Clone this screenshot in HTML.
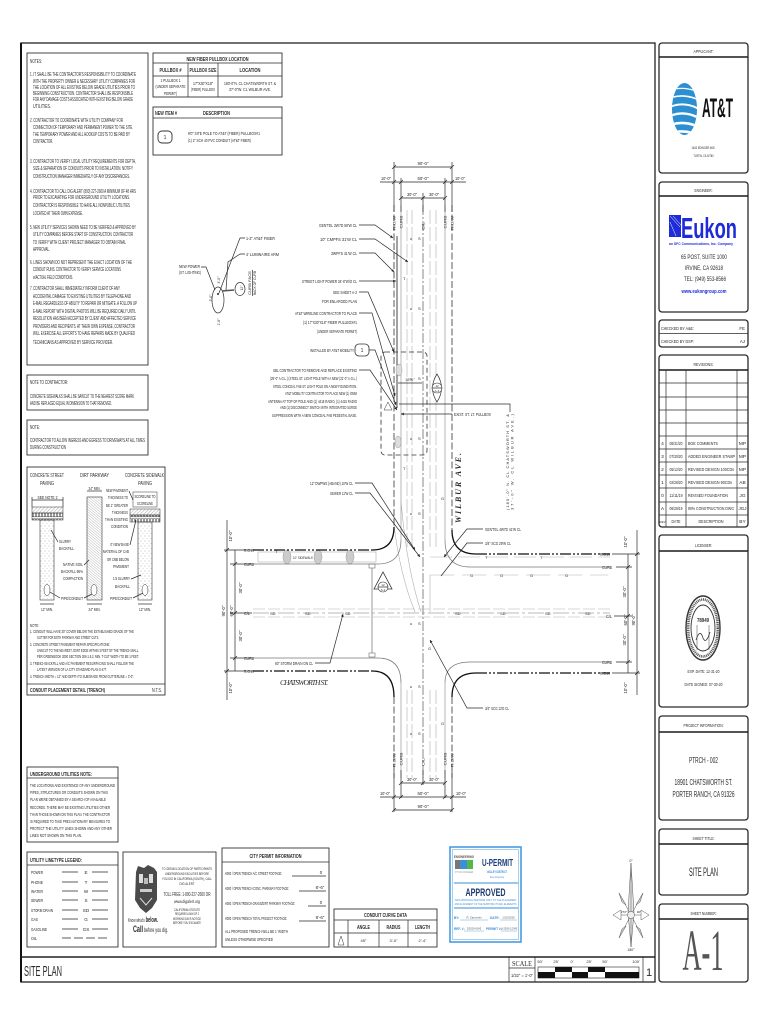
<!DOCTYPE html>
<html><head><meta charset="utf-8">
<style>
html,body{margin:0;padding:0;background:#fff;}
svg{display:block;}
text{font-family:"Liberation Sans",sans-serif;fill:#2a2a2a;}
.b{font-weight:bold;}
.c{text-anchor:middle;}
.r{text-anchor:end;}
.ln{stroke:#2a2a2a;fill:none;stroke-width:0.7;}
.lt{stroke:#b0b0b0;fill:none;stroke-width:0.6;}
.bx{fill:none;stroke:#333;stroke-width:0.9;}
.tb{fill:#fff;stroke:#2a2a2a;stroke-width:1.3;}
.hd{stroke:#1a1a1a;stroke-width:1.6;}
.g{fill:#999;font-size:4px;}
.sm{font-size:4.4px;}
</style></head><body>
<svg width="770" height="1024" viewBox="0 0 770 1024" xmlns="http://www.w3.org/2000/svg" font-size="5.2">
<defs>
<pattern id="hatch" width="2.5" height="2.5" patternUnits="userSpaceOnUse" patternTransform="rotate(45)"><line x1="0" y1="0" x2="0" y2="2.5" stroke="#555" stroke-width="0.5"/></pattern>
<pattern id="hatch2" width="2" height="2" patternUnits="userSpaceOnUse" patternTransform="rotate(-50)"><line x1="0" y1="0" x2="0" y2="2" stroke="#777" stroke-width="0.5"/></pattern>
<pattern id="dots" width="4" height="5" patternUnits="userSpaceOnUse"><circle cx="1" cy="1" r="0.4" fill="#666"/><circle cx="3" cy="3.5" r="0.35" fill="#888"/></pattern>
<pattern id="xh" width="3" height="7" patternUnits="userSpaceOnUse"><rect x="0.3" y="0.8" width="2.3" height="5" fill="none" stroke="#333" stroke-width="0.5"/></pattern>
<marker id="ah" viewBox="0 0 6 6" refX="6" refY="3" markerWidth="4" markerHeight="4" orient="auto"><path d="M0,0 L6,3 L0,6 z" fill="#222"/></marker>
<clipPath id="glb"><ellipse cx="684.5" cy="109" rx="12.5" ry="26"/></clipPath>
</defs>

<!-- MAIN FRAME -->
<rect x="21" y="43" width="634" height="939" fill="none" stroke="#222" stroke-width="1.3"/>
<line x1="21" y1="43" x2="21" y2="982" stroke="#111" stroke-width="2"/>
<line x1="21" y1="957" x2="655" y2="957" stroke="#222" stroke-width="1.4"/>
<text x="24" y="976" font-size="15" textLength="38" lengthAdjust="spacingAndGlyphs">SITE PLAN</text>

<!-- scale -->
<line x1="509" y1="957" x2="509" y2="982" class="ln"/>
<line x1="535" y1="957" x2="535" y2="982" class="ln"/>
<line x1="643" y1="957" x2="643" y2="982" class="ln"/>
<line x1="509" y1="968" x2="535" y2="968" class="ln" stroke-width="0.4"/>
<text x="522" y="966" class="c" font-size="7" textLength="20" lengthAdjust="spacingAndGlyphs" style="font-family:'Liberation Serif',serif">SCALE</text>
<text x="522" y="977" class="c sm" textLength="22" lengthAdjust="spacingAndGlyphs">1/32" = 1'-0"</text>
<text x="540" y="963" class="c" font-size="4">50'</text><text x="556" y="963" class="c" font-size="4">25'</text><text x="572" y="963" class="c" font-size="4">0'</text><text x="589" y="963" class="c" font-size="4">25'</text><text x="605" y="963" class="c" font-size="4">50'</text><text x="636" y="963" class="c" font-size="4">100'</text>
<rect x="538" y="967" width="101" height="11" fill="#fff" stroke="#222" stroke-width="0.6"/>
<rect x="555" y="967" width="17" height="5" fill="#111"/><rect x="588" y="967" width="17" height="5" fill="#111"/>
<rect x="538" y="972" width="17" height="6" fill="#111"/><rect x="572" y="972" width="16" height="6" fill="#111"/><rect x="605" y="972" width="34" height="6" fill="#111"/>
<text x="649" y="976" class="c" font-size="11">1</text>

<!-- RIGHT TITLE COLUMN -->
<rect x="659" y="43" width="89" height="130" rx="3" class="tb"/>
<line x1="659" y1="57" x2="748" y2="57" class="hd"/>
<text x="703.5" y="53" class="c sm" textLength="20" lengthAdjust="spacingAndGlyphs">APPLICANT:</text>
<ellipse cx="684.5" cy="109" rx="12.5" ry="26" fill="#2b8fd1"/>
<g clip-path="url(#glb)" stroke="#fff" fill="none">
<path d="M670 90 Q684 86 699 92" stroke-width="1.2"/>
<path d="M670 98 Q684 93 699 100" stroke-width="1.6"/>
<path d="M670 107 Q684 101 699 109" stroke-width="2"/>
<path d="M670 116 Q684 110 699 118" stroke-width="2.4"/>
<path d="M670 125 Q684 120 699 127" stroke-width="2.6"/>
<path d="M670 133 Q684 129 699 135" stroke-width="2.6"/>
</g>
<text x="702" y="117" class="b" font-size="27" textLength="31" lengthAdjust="spacingAndGlyphs" style="fill:#111">AT&amp;T</text>
<text x="703.5" y="149" class="c" font-size="4" textLength="24" lengthAdjust="spacingAndGlyphs">1452 EDINGER AVE.</text>
<text x="703.5" y="157" class="c" font-size="4" textLength="20" lengthAdjust="spacingAndGlyphs">TUSTIN, CA 92780</text>

<rect x="659" y="182" width="89" height="130" rx="3" class="tb"/>
<line x1="659" y1="196" x2="748" y2="196" class="hd"/>
<text x="703.5" y="192" class="c sm" textLength="18" lengthAdjust="spacingAndGlyphs">ENGINEER:</text>
<rect x="669" y="215" width="12" height="22" fill="#1e2bd8"/>
<path d="M670 216 L680 227 M670 222 L676 236 M673 216 L681 225" stroke="#fff" stroke-width="0.5"/>
<text x="681" y="238" class="b" font-size="29" textLength="56" lengthAdjust="spacingAndGlyphs" style="fill:#1e2bd8">Eukon</text>
<text x="669" y="245" class="b" font-size="4" textLength="64" lengthAdjust="spacingAndGlyphs" style="fill:#1e2bd8">an SFC Communications, Inc. Company</text>
<text x="704" y="259" class="c" font-size="6.5" textLength="46" lengthAdjust="spacingAndGlyphs">65 POST, SUITE 1000</text>
<text x="704" y="270" class="c" font-size="6.5" textLength="38" lengthAdjust="spacingAndGlyphs">IRVINE, CA 92618</text>
<text x="705" y="281" class="c" font-size="6.5" textLength="42" lengthAdjust="spacingAndGlyphs">TEL:  (949) 553-8566</text>
<text x="704" y="293" class="c b" font-size="5" textLength="45" lengthAdjust="spacingAndGlyphs" style="fill:#1e2bd8">www.eukongroup.com</text>

<rect x="659" y="320" width="89" height="27" rx="3" class="tb"/>
<line x1="659" y1="333.5" x2="748" y2="333.5" class="ln"/>
<text x="661" y="330" class="sm" textLength="33" lengthAdjust="spacingAndGlyphs">CHECKED BY A&amp;E:</text>
<text x="745" y="330" class="r sm">FE</text>
<text x="661" y="343" class="sm" textLength="33" lengthAdjust="spacingAndGlyphs">CHECKED BY DSP:</text>
<text x="745" y="343" class="r sm">AJ</text>

<rect x="659" y="355" width="89" height="172" rx="3" class="tb"/>
<line x1="659" y1="370" x2="748" y2="370" class="hd"/>
<text x="703.5" y="366" class="c sm" textLength="20" lengthAdjust="spacingAndGlyphs">REVISIONS:</text>
<g class="ln" stroke-width="0.6">
<line x1="659" y1="383" x2="748" y2="383"/><line x1="659" y1="397" x2="748" y2="397"/><line x1="659" y1="410" x2="748" y2="410"/><line x1="659" y1="423" x2="748" y2="423"/><line x1="659" y1="436" x2="748" y2="436"/><line x1="659" y1="449" x2="748" y2="449"/><line x1="659" y1="462" x2="748" y2="462"/><line x1="659" y1="475" x2="748" y2="475"/><line x1="659" y1="488" x2="748" y2="488"/><line x1="659" y1="502" x2="748" y2="502"/><line x1="659" y1="515" x2="748" y2="515"/>
<line x1="666" y1="370" x2="666" y2="527"/><line x1="686" y1="370" x2="686" y2="527"/><line x1="737" y1="370" x2="737" y2="527"/>
</g>
<g font-size="4.8">
<text x="662.5" y="445" class="c">4</text><text x="676" y="445" class="c" textLength="13" lengthAdjust="spacingAndGlyphs">08/31/20</text><text x="688" y="445" textLength="30" lengthAdjust="spacingAndGlyphs">BOE COMMENTS</text><text x="742.5" y="445" class="c">MP</text>
<text x="662.5" y="458" class="c">3</text><text x="676" y="458" class="c" textLength="13" lengthAdjust="spacingAndGlyphs">07/30/20</text><text x="688" y="458" textLength="47" lengthAdjust="spacingAndGlyphs">ADDED ENGINEER STAMP</text><text x="742.5" y="458" class="c">MP</text>
<text x="662.5" y="471" class="c">2</text><text x="676" y="471" class="c" textLength="13" lengthAdjust="spacingAndGlyphs">05/12/20</text><text x="688" y="471" textLength="46" lengthAdjust="spacingAndGlyphs">REVISED DESIGN 100CDs</text><text x="742.5" y="471" class="c">MP</text>
<text x="662.5" y="484" class="c">1</text><text x="676" y="484" class="c" textLength="13" lengthAdjust="spacingAndGlyphs">02/28/20</text><text x="688" y="484" textLength="44" lengthAdjust="spacingAndGlyphs">REVISED DESIGN 90CDs</text><text x="742.5" y="484" class="c">AB</text>
<text x="662.5" y="497" class="c">0</text><text x="676" y="497" class="c" textLength="13" lengthAdjust="spacingAndGlyphs">11/11/19</text><text x="688" y="497" textLength="40" lengthAdjust="spacingAndGlyphs">REVISED FOUNDATION</text><text x="742.5" y="497" class="c">JG</text>
<text x="662.5" y="510" class="c">A</text><text x="676" y="510" class="c" textLength="13" lengthAdjust="spacingAndGlyphs">06/28/19</text><text x="688" y="510" textLength="46" lengthAdjust="spacingAndGlyphs">90% CONSTRUCTION DWG</text><text x="742.5" y="510" class="c" textLength="8" lengthAdjust="spacingAndGlyphs">JGJ</text>
<text x="662.5" y="523" class="c" font-size="3">REV</text><text x="676" y="523" class="c" textLength="9" lengthAdjust="spacingAndGlyphs">DATE</text><text x="711" y="523" class="c" textLength="25" lengthAdjust="spacingAndGlyphs">DESCRIPTION</text><text x="742.5" y="523" class="c">BY</text>
</g>

<rect x="659" y="535" width="89" height="172" rx="3" class="tb"/>
<line x1="659" y1="551" x2="748" y2="551" class="hd"/>
<text x="703.5" y="547" class="c sm" textLength="17" lengthAdjust="spacingAndGlyphs">LICENSER:</text>
<ellipse cx="703" cy="628" rx="17" ry="32" fill="none" stroke="#333" stroke-width="1.4"/>
<ellipse cx="703" cy="628" rx="14.8" ry="28.5" fill="none" stroke="#555" stroke-width="2.6" stroke-dasharray="1,0.8"/>
<ellipse cx="703" cy="628" rx="12" ry="23" fill="none" stroke="#333" stroke-width="0.9"/>
<text x="703" y="622" class="c b" font-size="5" textLength="12" lengthAdjust="spacingAndGlyphs">78949</text>
<path d="M696 640 Q700 628 703 638 Q706 645 710 632" fill="none" stroke="#333" stroke-width="0.8"/>
<path d="M697 625 L697 650 M709 625 L709 650" stroke="#444" stroke-width="0.5"/>
<text x="703.5" y="673" class="c sm" textLength="32" lengthAdjust="spacingAndGlyphs">EXP. DATE: 12-31-20</text>
<text x="703.5" y="686" class="c sm" textLength="38" lengthAdjust="spacingAndGlyphs">DATE SIGNED: 07-30-20</text>

<rect x="659" y="716" width="89" height="104" rx="3" class="tb"/>
<line x1="659" y1="732" x2="748" y2="732" class="hd"/>
<text x="703.5" y="727" class="c sm" textLength="40" lengthAdjust="spacingAndGlyphs">PROJECT INFORMATION:</text>
<text x="703.5" y="763" class="c" font-size="8" textLength="29" lengthAdjust="spacingAndGlyphs">PTRCH - 002</text>
<text x="703.5" y="785" class="c" font-size="8" textLength="58" lengthAdjust="spacingAndGlyphs">18901 CHATSWORTH ST.</text>
<text x="703.5" y="797" class="c" font-size="8" textLength="62" lengthAdjust="spacingAndGlyphs">PORTER RANCH, CA 91326</text>

<rect x="659" y="829" width="89" height="66" rx="3" class="tb"/>
<line x1="659" y1="844" x2="748" y2="844" class="hd"/>
<text x="703.5" y="840" class="c sm" textLength="22" lengthAdjust="spacingAndGlyphs">SHEET TITLE:</text>
<text x="703.5" y="876" class="c" font-size="12" textLength="29" lengthAdjust="spacingAndGlyphs">SITE PLAN</text>

<rect x="659" y="904" width="89" height="78" rx="3" class="tb"/>
<line x1="659" y1="919" x2="748" y2="919" class="hd"/>
<text x="703.5" y="915" class="c sm" textLength="26" lengthAdjust="spacingAndGlyphs">SHEET NUMBER:</text>
<text x="703" y="970" class="c" font-size="58" textLength="41" lengthAdjust="spacingAndGlyphs" style="fill:#555;font-family:'Liberation Serif',serif">A-1</text>

<!-- NOTES BOX -->
<rect x="27" y="53" width="121" height="312" class="bx"/>
<g font-size="5.2">
<text x="30" y="63" textLength="12" lengthAdjust="spacingAndGlyphs">NOTES:</text>
<text x="30" y="76" textLength="106" lengthAdjust="spacingAndGlyphs">1.  IT SHALL BE THE CONTRACTOR'S RESPONSIBILITY TO COORDINATE</text>
<text x="33" y="83" textLength="102" lengthAdjust="spacingAndGlyphs">WITH THE PROPERTY OWNER &amp; NECESSARY UTILITY COMPANIES FOR</text>
<text x="33" y="89" textLength="102" lengthAdjust="spacingAndGlyphs">THE LOCATION OF ALL EXISTING BELOW GRADE UTILITIES PRIOR TO</text>
<text x="33" y="95" textLength="100" lengthAdjust="spacingAndGlyphs">BEGINNING CONSTRUCTION. CONTRACTOR SHALL BE RESPONSIBLE</text>
<text x="33" y="101" textLength="100" lengthAdjust="spacingAndGlyphs">FOR ANY DAMAGE COSTS ASSOCIATED WITH EXISTING BELOW GRADE</text>
<text x="33" y="108" textLength="18" lengthAdjust="spacingAndGlyphs">UTILITIES.</text>
<text x="30" y="122" textLength="93" lengthAdjust="spacingAndGlyphs">2.  CONTRACTOR TO COORDINATE WITH UTILITY COMPANY FOR</text>
<text x="33" y="129" textLength="100" lengthAdjust="spacingAndGlyphs">CONNECTION OF TEMPORARY AND PERMANENT POWER TO THE SITE.</text>
<text x="33" y="136" textLength="97" lengthAdjust="spacingAndGlyphs">THE TEMPORARY POWER AND ALL HOOKUP COSTS TO BE PAID BY</text>
<text x="33" y="143" textLength="20" lengthAdjust="spacingAndGlyphs">CONTRACTOR.</text>
<text x="30" y="163" textLength="106" lengthAdjust="spacingAndGlyphs">3.  CONTRACTOR TO VERIFY LOCAL UTILITY REQUIREMENTS FOR DEPTH,</text>
<text x="33" y="170" textLength="100" lengthAdjust="spacingAndGlyphs">SIZE &amp; SEPARATION OF CONDUITS PRIOR TO INSTALLATION.  NOTIFY</text>
<text x="33" y="178" textLength="97" lengthAdjust="spacingAndGlyphs">CONSTRUCTION MANAGER IMMEDIATELY OF ANY DISCREPANCIES.</text>
<text x="30" y="193" textLength="106" lengthAdjust="spacingAndGlyphs">4.  CONTRACTOR TO CALL DIG ALERT (800) 227-2600 A MINIMUM OF 48 HRS</text>
<text x="33" y="199" textLength="97" lengthAdjust="spacingAndGlyphs">PRIOR TO EXCAVATING FOR UNDERGROUND UTILITY LOCATIONS.</text>
<text x="33" y="207" textLength="97" lengthAdjust="spacingAndGlyphs">CONTRACTOR IS RESPONSIBLE TO HAVE ALL NONPUBLIC UTILITIES</text>
<text x="33" y="215" textLength="50" lengthAdjust="spacingAndGlyphs">LOCATED AT THEIR OWN EXPENSE.</text>
<text x="30" y="229" textLength="106" lengthAdjust="spacingAndGlyphs">5.  NEW UTILITY SERVICES SHOWN NEED TO BE VERIFIED &amp; APPROVED BY</text>
<text x="33" y="236" textLength="100" lengthAdjust="spacingAndGlyphs">UTILITY COMPANIES BEFORE START OF CONSTRUCTION. CONTRACTOR</text>
<text x="33" y="244" textLength="93" lengthAdjust="spacingAndGlyphs">TO VERIFY WITH CLIENT PROJECT MANAGER TO OBTAIN FINAL</text>
<text x="33" y="251" textLength="17" lengthAdjust="spacingAndGlyphs">APPROVAL.</text>
<text x="30" y="264" textLength="102" lengthAdjust="spacingAndGlyphs">6.  LINES SHOWN DO NOT REPRESENT THE EXACT LOCATION OF THE</text>
<text x="33" y="271" textLength="88" lengthAdjust="spacingAndGlyphs">CONDUIT RUNS. CONTRACTOR TO VERIFY SERVICE LOCATIONS</text>
<text x="33" y="279" textLength="40" lengthAdjust="spacingAndGlyphs">w/ACTUAL FIELD CONDITIONS.</text>
<text x="30" y="290" textLength="90" lengthAdjust="spacingAndGlyphs">7.  CONTRACTOR SHALL IMMEDIATELY INFORM CLIENT OF ANY</text>
<text x="33" y="298" textLength="98" lengthAdjust="spacingAndGlyphs">ACCIDENTAL DAMAGE TO EXISTING UTILITIES BY TELEPHONE AND</text>
<text x="33" y="305" textLength="104" lengthAdjust="spacingAndGlyphs">E-MAIL REGARDLESS OF ABILITY TO REPAIR OR MITIGATE. A FOLLOW UP</text>
<text x="33" y="313" textLength="103" lengthAdjust="spacingAndGlyphs">E-MAIL REPORT WITH DIGITAL PHOTOS WILL BE REQUIRED DAILY UNTIL</text>
<text x="33" y="320" textLength="103" lengthAdjust="spacingAndGlyphs">RESOLUTION HAS BEEN ACCEPTED BY CLIENT AND AFFECTED SERVICE</text>
<text x="33" y="328" textLength="102" lengthAdjust="spacingAndGlyphs">PROVIDERS AND RECIPIENTS.  AT THEIR OWN EXPENSE, CONTRACTOR</text>
<text x="33" y="335" textLength="102" lengthAdjust="spacingAndGlyphs">WILL EXERCISE ALL EFFORTS TO HAVE REPAIRS MADE BY QUALIFIED</text>
<text x="33" y="344" textLength="80" lengthAdjust="spacingAndGlyphs">TECHNICIANS AS APPROVED BY SERVICE PROVIDER.</text>
</g>

<!-- NOTE TO CONTRACTOR -->
<rect x="27" y="375" width="121" height="35" class="bx"/>
<text x="30" y="384" textLength="38" lengthAdjust="spacingAndGlyphs">NOTE TO CONTRACTOR:</text>
<text x="30" y="398" textLength="104" lengthAdjust="spacingAndGlyphs">CONCRETE SIDEWALKS SHALL BE SAWCUT TO THE NEAREST SCORE MARK</text>
<text x="30" y="405" textLength="82" lengthAdjust="spacingAndGlyphs">AND BE REPLACED EQUAL IN DIMENSION TO THAT REMOVED.</text>
<rect x="27" y="420" width="121" height="35" class="bx"/>
<text x="30" y="429" textLength="10" lengthAdjust="spacingAndGlyphs">NOTE:</text>
<text x="30" y="442" textLength="115" lengthAdjust="spacingAndGlyphs">CONTRACTOR TO ALLOW INGRESS AND EGRESS TO DRIVEWAYS AT ALL TIMES</text>
<text x="30" y="449" textLength="36" lengthAdjust="spacingAndGlyphs">DURING CONSTRUCTION</text>

<!-- TRENCH DETAIL -->
<rect x="27" y="467" width="138" height="228" class="bx"/>
<line x1="27" y1="684" x2="165" y2="684" class="ln" stroke-width="0.9"/>
<text x="30" y="692" class="b" textLength="75" lengthAdjust="spacingAndGlyphs">CONDUIT PLACEMENT DETAIL (TRENCH)</text>
<text x="152" y="692" textLength="10" lengthAdjust="spacingAndGlyphs">N.T.S.</text>
<g font-size="5.4">
<text x="30" y="477" textLength="34" lengthAdjust="spacingAndGlyphs">CONCRETE STREET</text>
<text x="47" y="485" class="c" textLength="14" lengthAdjust="spacingAndGlyphs">PAVING</text>
<text x="80" y="477" textLength="29" lengthAdjust="spacingAndGlyphs">DIRT PARKWAY</text>
<text x="125" y="477" textLength="39" lengthAdjust="spacingAndGlyphs">CONCRETE SIDEWALK</text>
<text x="145" y="485" class="c" textLength="14" lengthAdjust="spacingAndGlyphs">PAVING</text>
</g>
<!-- street col -->
<line x1="32" y1="500" x2="63" y2="500" class="ln" stroke-width="0.5"/>
<line x1="32" y1="497" x2="32" y2="507" class="ln" stroke-width="0.5"/><line x1="63" y1="497" x2="63" y2="507" class="ln" stroke-width="0.5"/>
<text x="47.5" y="499" class="c" font-size="4.5" textLength="20" lengthAdjust="spacingAndGlyphs">SEE NOTE 2</text>
<rect x="32" y="507" width="31" height="6" fill="url(#hatch)" stroke="#333" stroke-width="0.5"/>
<rect x="32" y="513" width="31" height="7" fill="url(#xh)" stroke="#333" stroke-width="0.5"/>
<rect x="40" y="520" width="14" height="80" fill="url(#dots)" stroke="#333" stroke-width="0.6"/>
<ellipse cx="47" cy="590" rx="3" ry="5.5" fill="#fff" stroke="#333" stroke-width="0.5"/>
<line x1="40" y1="604" x2="54" y2="604" class="ln" stroke-width="0.5"/>
<text x="47" y="611" class="c" font-size="4.5" textLength="12" lengthAdjust="spacingAndGlyphs">12" MIN.</text>
<!-- dirt col -->
<line x1="87" y1="491" x2="102" y2="491" class="ln" stroke-width="0.5"/>
<text x="94.5" y="490" class="c" font-size="4.5" textLength="12" lengthAdjust="spacingAndGlyphs">24" MIN.</text>
<rect x="87" y="497" width="15" height="103" fill="url(#hatch2)" stroke="#333" stroke-width="0.6"/>
<ellipse cx="94" cy="590" rx="3" ry="5.5" fill="#fff" stroke="#333" stroke-width="0.5"/>
<line x1="87" y1="604" x2="102" y2="604" class="ln" stroke-width="0.5"/>
<text x="94.5" y="611" class="c" font-size="4.5" textLength="12" lengthAdjust="spacingAndGlyphs">24" MIN.</text>
<!-- sidewalk col -->
<rect x="133" y="492" width="24" height="15" fill="none" stroke="#333" stroke-width="0.5"/>
<text x="145" y="498" class="c" font-size="4.3" textLength="21" lengthAdjust="spacingAndGlyphs">SCORELINE TO</text>
<text x="145" y="505" class="c" font-size="4.3" textLength="16" lengthAdjust="spacingAndGlyphs">SCORELINE</text>
<rect x="130" y="509" width="30" height="6" fill="url(#hatch)" stroke="#333" stroke-width="0.5"/>
<rect x="130" y="515" width="30" height="7" fill="url(#xh)" stroke="#333" stroke-width="0.5"/>
<rect x="138" y="522" width="14" height="78" fill="url(#dots)" stroke="#333" stroke-width="0.6"/>
<ellipse cx="145" cy="590" rx="3" ry="5.5" fill="#fff" stroke="#333" stroke-width="0.5"/>
<line x1="138" y1="604" x2="152" y2="604" class="ln" stroke-width="0.5"/>
<text x="145" y="611" class="c" font-size="4.5" textLength="12" lengthAdjust="spacingAndGlyphs">12" MIN.</text>
<g font-size="4.4">
<text x="59" y="543" textLength="12" lengthAdjust="spacingAndGlyphs">SLURRY</text>
<text x="59" y="550" textLength="15" lengthAdjust="spacingAndGlyphs">BACKFILL</text>
<path d="M58 542 L51 530" class="ln" stroke-width="0.4"/>
<text x="83" y="566" class="r" textLength="20" lengthAdjust="spacingAndGlyphs">NATIVE SOIL</text>
<text x="83" y="573" class="r" textLength="22" lengthAdjust="spacingAndGlyphs">BACKFILL 95%</text>
<text x="83" y="580" class="r" textLength="20" lengthAdjust="spacingAndGlyphs">COMPACTION</text>
<path d="M84 565 L89 560" class="ln" stroke-width="0.4"/>
<text x="61" y="600" textLength="22" lengthAdjust="spacingAndGlyphs">PIPE/CONDUIT</text>
<path d="M60 598 L50 592" class="ln" stroke-width="0.4"/><path d="M84 598 L92 594" class="ln" stroke-width="0.4"/>
<text x="110" y="600" textLength="22" lengthAdjust="spacingAndGlyphs">PIPE/CONDUIT</text>
<path d="M133 598 L143 593" class="ln" stroke-width="0.4"/>
<text x="128" y="492" class="r" textLength="22" lengthAdjust="spacingAndGlyphs">NEW PAVEMENT</text>
<text x="128" y="499" class="r" textLength="20" lengthAdjust="spacingAndGlyphs">THICKNESS TO</text>
<text x="128" y="507" class="r" textLength="22" lengthAdjust="spacingAndGlyphs">BE 1" GREATER</text>
<text x="128" y="514" class="r" textLength="16" lengthAdjust="spacingAndGlyphs">THICKNESS</text>
<text x="128" y="521" class="r" textLength="23" lengthAdjust="spacingAndGlyphs">THAN EXISTING</text>
<text x="128" y="528" class="r" textLength="17" lengthAdjust="spacingAndGlyphs">CONDITION</text>
<path d="M129 491 L133 500" class="ln" stroke-width="0.4"/>
<text x="129" y="546" class="r" textLength="19" lengthAdjust="spacingAndGlyphs">4" NEW BASE</text>
<text x="129" y="553" class="r" textLength="26" lengthAdjust="spacingAndGlyphs">MATERIAL OF CAB</text>
<text x="129" y="561" class="r" textLength="22" lengthAdjust="spacingAndGlyphs">OR CMB BELOW</text>
<text x="129" y="568" class="r" textLength="16" lengthAdjust="spacingAndGlyphs">PAVEMENT</text>
<path d="M130 545 L136 520" class="ln" stroke-width="0.4"/>
<text x="130" y="580" class="r" textLength="17" lengthAdjust="spacingAndGlyphs">1:5 SLURRY</text>
<text x="130" y="588" class="r" textLength="15" lengthAdjust="spacingAndGlyphs">BACKFILL</text>
<path d="M131 579 L141 575" class="ln" stroke-width="0.4"/>
</g>
<g font-size="4.2">
<text x="30" y="627" textLength="9" lengthAdjust="spacingAndGlyphs">NOTE:</text>
<text x="30" y="633" textLength="104" lengthAdjust="spacingAndGlyphs">1.    CONDUIT WILL HAVE 30" COVER BELOW THE ESTABLISHED GRADE OF THE</text>
<text x="37" y="639" textLength="62" lengthAdjust="spacingAndGlyphs">GUTTER FOR BOTH PARKWAY AND STREET CUTS.</text>
<text x="30" y="646" textLength="80" lengthAdjust="spacingAndGlyphs">2.    CONCRETE STREET PAVEMENT REPAIR SPECIFICATIONS:</text>
<text x="37" y="652" textLength="102" lengthAdjust="spacingAndGlyphs">SAWCUT TO THE NEAREST JOINT EDGE WITHIN 3 FEET OF THE TRENCH WALL.</text>
<text x="37" y="658" textLength="102" lengthAdjust="spacingAndGlyphs">PER GREENBOOK 2000 SECTION 306-1.5.2. MIN. T-CUT WIDTH TO BE 1 FEET.</text>
<text x="30" y="665" textLength="104" lengthAdjust="spacingAndGlyphs">3.    TRENCH BACKFILL AND A/C PAVEMENT RESURFACING SHALL FOLLOW THE</text>
<text x="37" y="671" textLength="70" lengthAdjust="spacingAndGlyphs">LATEST VERSION OF LA CITY STANDARD PLAN S-477.</text>
<text x="30" y="678" textLength="104" lengthAdjust="spacingAndGlyphs">4.    TRENCH WIDTH = 12" AND DEPTH TO SUBGRADE FROM GUTTERLINE = 3'-0".</text>
</g>

<!-- UNDERGROUND UTILITIES NOTE -->
<rect x="27" y="767" width="91" height="75" class="bx"/>
<line x1="27" y1="778" x2="118" y2="778" class="ln" stroke-width="0.9"/>
<text x="30" y="776" class="b" textLength="62" lengthAdjust="spacingAndGlyphs">UNDERGROUND UTILITIES NOTE:</text>
<g font-size="4.6">
<text x="30" y="787" textLength="85" lengthAdjust="spacingAndGlyphs">THE LOCATIONS AND EXISTENCE OF ANY UNDERGROUND</text>
<text x="30" y="794" textLength="78" lengthAdjust="spacingAndGlyphs">PIPES, STRUCTURES OR CONDUITS SHOWN ON THIS</text>
<text x="30" y="801" textLength="76" lengthAdjust="spacingAndGlyphs">PLAN WERE OBTAINED BY A SEARCH OF AVAILABLE</text>
<text x="30" y="809" textLength="80" lengthAdjust="spacingAndGlyphs">RECORDS. THERE MAY BE EXISTING UTILITIES OTHER</text>
<text x="30" y="816" textLength="80" lengthAdjust="spacingAndGlyphs">THAN THOSE SHOWN ON THIS PLAN. THE CONTRACTOR</text>
<text x="30" y="823" textLength="80" lengthAdjust="spacingAndGlyphs">IS REQUIRED TO TAKE PRECAUTIONARY MEASURES TO</text>
<text x="30" y="830" textLength="82" lengthAdjust="spacingAndGlyphs">PROTECT THE UTILITY LINES SHOWN AND ANY OTHER</text>
<text x="30" y="837" textLength="52" lengthAdjust="spacingAndGlyphs">LINES NOT SHOWN ON THIS PLAN.</text>
</g>

<!-- LEGEND -->
<rect x="27" y="852" width="91" height="95" class="bx"/>
<line x1="27" y1="865" x2="118" y2="865" class="ln" stroke-width="0.9"/>
<text x="30" y="862" class="b" textLength="52" lengthAdjust="spacingAndGlyphs">UTILITY LINETYPE LEGEND:</text>
<g font-size="4.6">
<text x="31" y="874" textLength="12" lengthAdjust="spacingAndGlyphs">POWER</text><text x="86" y="874" class="c">E</text>
<text x="31" y="884" textLength="12" lengthAdjust="spacingAndGlyphs">PHONE</text><text x="86" y="884" class="c">T</text>
<text x="31" y="893" textLength="12" lengthAdjust="spacingAndGlyphs">WATER</text><text x="86" y="893" class="c">W</text>
<text x="31" y="902" textLength="12" lengthAdjust="spacingAndGlyphs">SEWER</text><text x="86" y="902" class="c">S</text>
<text x="31" y="912" textLength="22" lengthAdjust="spacingAndGlyphs">STORM DRAIN</text><text x="86" y="912" class="c">SD</text>
<text x="31" y="921" textLength="7" lengthAdjust="spacingAndGlyphs">GAS</text><text x="86" y="921" class="c">G</text>
<text x="31" y="931" textLength="16" lengthAdjust="spacingAndGlyphs">GASOLINE</text><text x="86" y="931" class="c">GS</text>
<text x="31" y="940" textLength="6" lengthAdjust="spacingAndGlyphs">OIL</text>
</g>
<g class="ln" stroke-width="0.5">
<path d="M62 872H78M92 872H108M62 882H78M92 882H108M62 891H78M92 891H108M62 900H78M92 900H108M62 910H78M92 910H108M62 919H78M92 919H108M62 929H78M92 929H108"/>
<path d="M62 938H108" stroke-dasharray="9,3"/>
</g>

<!-- DIG ALERT -->
<rect x="123" y="852" width="93" height="95" class="bx"/>
<path d="M136 872 L138 866 L144 868 L148 865 L154 868 L157 872 L157 900 L152 908 L146 913 L140 908 L135 900 Z" fill="#4a4a4a"/>
<rect x="139" y="874" width="4" height="9" fill="#ddd"/><rect x="149" y="874" width="4" height="9" fill="#ddd"/><rect x="144" y="878" width="4" height="6" fill="#bbb"/><rect x="140" y="889" width="12" height="3" fill="#ccc"/><path d="M140 898 L146 905 L152 898" stroke="#ddd" fill="none" stroke-width="1"/>
<text x="128" y="922" font-size="5.2" textLength="30" lengthAdjust="spacingAndGlyphs">Know what's <tspan font-weight="bold" font-size="7">below.</tspan></text>
<text x="133" y="932" font-size="6" textLength="35" lengthAdjust="spacingAndGlyphs"><tspan font-weight="bold" font-size="9">Call</tspan> before you dig.</text>
<g font-size="3.6">
<text x="187" y="870" class="c" textLength="50" lengthAdjust="spacingAndGlyphs">TO OBTAIN LOCATION OF PARTICIPANTS</text>
<text x="187" y="875" class="c" textLength="44" lengthAdjust="spacingAndGlyphs">UNDERGROUND FACILITIES BEFORE</text>
<text x="187" y="880" class="c" textLength="50" lengthAdjust="spacingAndGlyphs">YOU DIG IN CALIFORNIA (SOUTH), CALL</text>
<text x="187" y="885" class="c" textLength="15" lengthAdjust="spacingAndGlyphs">DIG ALERT</text>
<text x="187" y="896" class="c" font-size="5.5" textLength="47" lengthAdjust="spacingAndGlyphs">TOLL FREE: 1-800-227-2600 OR</text>
<text x="187" y="903" class="c" font-size="4.5" textLength="26" lengthAdjust="spacingAndGlyphs">www.digalert.org</text>
<text x="187" y="911" class="c" textLength="26" lengthAdjust="spacingAndGlyphs">CALIFORNIA STATUTE</text>
<text x="187" y="915" class="c" textLength="24" lengthAdjust="spacingAndGlyphs">REQUIRES A MIN OF 2</text>
<text x="187" y="920" class="c" textLength="28" lengthAdjust="spacingAndGlyphs">WORKING DAYS NOTICE</text>
<text x="187" y="924" class="c" textLength="28" lengthAdjust="spacingAndGlyphs">BEFORE YOU EXCAVATE</text>
</g>

<!-- CITY PERMIT -->
<rect x="222" y="848" width="107" height="99" class="bx"/>
<line x1="222" y1="862" x2="329" y2="862" class="ln" stroke-width="0.9"/>
<text x="275.5" y="858" class="c b" textLength="52" lengthAdjust="spacingAndGlyphs">CITY PERMIT INFORMATION</text>
<g font-size="4.4">
<text x="225" y="875" textLength="57" lengthAdjust="spacingAndGlyphs">H000 / OPEN TRENCH A/C STREET FOOTAGE:</text>
<text x="321" y="874" class="c">0</text>
<text x="225" y="890" textLength="64" lengthAdjust="spacingAndGlyphs">H000 / OPEN TRENCH CONC. PARKWAY FOOTAGE:</text>
<text x="320" y="889" class="c">8'-6"</text>
<text x="225" y="905" textLength="70" lengthAdjust="spacingAndGlyphs">H000 / OPEN TRENCH GRASS/DIRT PARKWAY FOOTAGE:</text>
<text x="321" y="904" class="c">0</text>
<text x="225" y="920" textLength="62" lengthAdjust="spacingAndGlyphs">H000 / OPEN TRENCH TOTAL PROJECT FOOTAGE:</text>
<text x="320" y="919" class="c">8'-6"</text>
<text x="225" y="933" textLength="63" lengthAdjust="spacingAndGlyphs">ALL PROPOSED TRENCH WILL BE 1' WIDTH</text>
<text x="225" y="941" textLength="48" lengthAdjust="spacingAndGlyphs">UNLESS OTHERWISE SPECIFIED</text>
</g>
<path d="M292 876H326M299 891H326M308 906H326M299 921H326" class="ln" stroke-width="0.5"/>

<!-- CONDUIT CURVE -->
<rect x="334" y="909" width="103" height="38" class="bx"/>
<path d="M334 920H437M334 933H437M348 920V947M379 920V947M408 920V947" class="ln" stroke-width="0.5"/>
<text x="385.5" y="917" class="c b" font-size="5" textLength="43" lengthAdjust="spacingAndGlyphs">CONDUIT CURVE DATA</text>
<text x="363.5" y="929" class="c b" font-size="5" textLength="13" lengthAdjust="spacingAndGlyphs">ANGLE</text>
<text x="393.5" y="929" class="c b" font-size="5" textLength="14" lengthAdjust="spacingAndGlyphs">RADIUS</text>
<text x="422.5" y="929" class="c b" font-size="5" textLength="15" lengthAdjust="spacingAndGlyphs">LENGTH</text>
<path d="M341 936 L338 945 L344 945 Z" fill="none" stroke="#333" stroke-width="0.5"/>
<text x="363.5" y="942" class="c" font-size="4">45°</text>
<text x="393.5" y="942" class="c" font-size="4">3'-0"</text>
<text x="422.5" y="942" class="c" font-size="4">2'-4"</text>

<!-- U-PERMIT -->
<rect x="450" y="847" width="71" height="95" fill="#fff" stroke="#4a9de0" stroke-width="1.6"/>
<rect x="452.5" y="849.5" width="66" height="90" fill="none" stroke="#4a9de0" stroke-width="0.5"/>
<text x="454" y="858" class="b" font-size="3.6" textLength="20" lengthAdjust="spacingAndGlyphs" style="fill:#555">ENGINEERING</text>
<rect x="455" y="860" width="5" height="9" fill="#777"/><rect x="460" y="860" width="7" height="9" fill="#3a8fd8"/><rect x="467" y="860" width="6" height="9" fill="#52b848"/>
<text x="455" y="873" font-size="2.5" textLength="18" lengthAdjust="spacingAndGlyphs" style="fill:#888">CITY OF LOS ANGELES</text>
<text x="482" y="866" class="b" font-size="10" textLength="31" lengthAdjust="spacingAndGlyphs" style="fill:#1d3f7a">U-PERMIT</text>
<text x="497" y="873" class="c b" font-size="3.4" textLength="20" lengthAdjust="spacingAndGlyphs" style="fill:#3a8fd8">VALLEY DISTRICT</text>
<text x="497" y="878" class="c" font-size="2.3" textLength="14" lengthAdjust="spacingAndGlyphs" style="fill:#3a8fd8">Bureau of Engineering</text>
<line x1="454" y1="883" x2="518" y2="883" stroke="#3a8fd8" stroke-width="1"/>
<text x="485.5" y="896" class="c b" font-size="11" textLength="40" lengthAdjust="spacingAndGlyphs" style="fill:#1d3a6e">APPROVED</text>
<text x="485.5" y="901" class="c" font-size="2.6" textLength="62" lengthAdjust="spacingAndGlyphs" style="fill:#3a8fd8">THIS APPROVAL PERTAINS ONLY TO THE PLACEMENT</text>
<text x="485.5" y="905" class="c" font-size="2.6" textLength="62" lengthAdjust="spacingAndGlyphs" style="fill:#3a8fd8">AND ALIGNMENT OF THE SUBSTRUCTURAL ELEMENTS</text>
<line x1="454" y1="908" x2="518" y2="908" stroke="#3a8fd8" stroke-width="1"/>
<text x="454" y="919" class="b" font-size="3.2" style="fill:#3a8fd8">BY:</text>
<line x1="460" y1="920" x2="488" y2="920" stroke="#3a8fd8" stroke-width="0.4"/>
<text x="474" y="918.5" class="c" font-size="2.8" style="fill:#555">R. Zaromski</text>
<text x="490" y="919" class="b" font-size="3.2" style="fill:#3a8fd8">DATE:</text>
<line x1="500" y1="920" x2="517" y2="920" stroke="#3a8fd8" stroke-width="0.4"/>
<text x="508.5" y="918.5" class="c" font-size="2.8" style="fill:#555">1/15/2020</text>
<text x="454" y="930" class="b" font-size="3.2" style="fill:#3a8fd8">REF. #:</text>
<line x1="464" y1="931" x2="484" y2="931" stroke="#3a8fd8" stroke-width="0.4"/>
<text x="474" y="929.5" class="c" font-size="2.6" style="fill:#555">D2020-0045</text>
<text x="486" y="930" class="b" font-size="3.2" style="fill:#3a8fd8">PERMIT #:</text>
<line x1="501" y1="931" x2="517" y2="931" stroke="#3a8fd8" stroke-width="0.4"/>
<text x="509" y="929.5" class="c" font-size="2.6" style="fill:#555">U-2020-12345</text>

<!-- COMPASS -->
<g stroke="#555" stroke-width="0.5" fill="none">
<path d="M631 863 L634 912 L631 947 L628 912 Z" fill="#e4e4e4"/>
<path d="M631 863 L631 947"/>
<path d="M631 915 L619 893 M631 915 L643 893 M631 915 L619 938 M631 915 L643 938"/>
<path d="M619 893 L626 905 L622 902 Z M643 893 L636 905 L640 902 Z M619 938 L626 926 L622 929 Z M643 938 L636 926 L640 929 Z" fill="#ccc"/>
<path d="M613 915 L649 915"/>
<path d="M613 915 L621 910 L621 920 Z M649 915 L641 910 L641 920 Z" fill="#fff"/>
<circle cx="631" cy="915" r="3.5" fill="#eee"/>
</g>
<text x="631" y="862" class="c" font-size="3.5">0°</text>
<text x="624" y="913" class="c" font-size="3">270°</text>
<text x="639" y="913" class="c" font-size="3">90°</text>
<text x="631" y="951" class="c" font-size="3.5">180°</text>

<!-- NEW FIBER PULLBOX TABLE -->
<rect x="153" y="53" width="129" height="44" class="bx"/>
<path d="M153 63H282M153 76H282M188 63V97M218 63V97" class="ln" stroke-width="0.7"/>
<text x="217.5" y="61" class="c b" font-size="5.5" textLength="62" lengthAdjust="spacingAndGlyphs">NEW FIBER PULLBOX LOCATION</text>
<text x="170.5" y="72" class="c b" font-size="5.5" textLength="22" lengthAdjust="spacingAndGlyphs">PULLBOX #</text>
<text x="203" y="72" class="c b" font-size="5.5" textLength="27" lengthAdjust="spacingAndGlyphs">PULLBOX SIZE</text>
<text x="250" y="72" class="c b" font-size="5.5" textLength="21" lengthAdjust="spacingAndGlyphs">LOCATION</text>
<g font-size="4.2">
<text x="170.5" y="82" class="c" textLength="20" lengthAdjust="spacingAndGlyphs">1 PULLBOX 1</text>
<text x="170.5" y="88" class="c" textLength="30" lengthAdjust="spacingAndGlyphs">(UNDER SEPARATE</text>
<text x="170.5" y="95" class="c" textLength="13" lengthAdjust="spacingAndGlyphs">PERMIT)</text>
<text x="203" y="85" class="c" textLength="20" lengthAdjust="spacingAndGlyphs">17"X30"X18"</text>
<text x="203" y="91" class="c" textLength="24" lengthAdjust="spacingAndGlyphs">(FIBER) PULLBOX</text>
<text x="250" y="85" class="c" textLength="52" lengthAdjust="spacingAndGlyphs">180'-0"N. CL CHATSWORTH ST. &amp;</text>
<text x="250" y="91" class="c" textLength="42" lengthAdjust="spacingAndGlyphs">37'-0"W. CL WILBUR AVE.</text>
</g>

<rect x="153" y="107" width="129" height="48" class="bx"/>
<line x1="153" y1="118" x2="282" y2="118" class="ln" stroke-width="0.9"/>
<text x="155" y="115" class="b" font-size="5.5" textLength="22" lengthAdjust="spacingAndGlyphs">NEW ITEM #</text>
<text x="216.5" y="115" class="c b" font-size="5.5" textLength="27" lengthAdjust="spacingAndGlyphs">DESCRIPTION</text>
<rect x="158" y="131" width="14" height="12" rx="4" class="bx"/>
<text x="165" y="139" class="c" font-size="5">1</text>
<text x="188" y="135" font-size="4.4" textLength="72" lengthAdjust="spacingAndGlyphs">9'0" SITE POLE TO AT&amp;T (FIBER) PULLBOX#1</text>
<text x="188" y="142" font-size="4.4" textLength="63" lengthAdjust="spacingAndGlyphs">(1) 2" SCH 40 PVC CONDUIT (AT&amp;T FIBER)</text>

<!-- POLE DETAIL -->
<ellipse cx="218" cy="300" rx="6" ry="13" fill="#fff" stroke="#333" stroke-width="0.7"/>
<line x1="222" y1="291" x2="234" y2="290" stroke="#555" stroke-width="1.6"/>
<ellipse cx="240" cy="289" rx="5" ry="6.5" fill="#fff" stroke="#333" stroke-width="0.7"/>
<circle cx="218" cy="294" r="1" fill="#222"/>
<path d="M240 238 L245 238 M240 238 L219 293" class="ln" stroke-width="0.5"/>
<text x="246" y="240" font-size="4.5" textLength="29" lengthAdjust="spacingAndGlyphs">1-2" AT&amp;T FIBER</text>
<path d="M240 254 L245 254 M240 254 L228 262 L226 290" class="ln" stroke-width="0.5"/>
<text x="246" y="256" font-size="4.5" textLength="33" lengthAdjust="spacingAndGlyphs">4' LUMINAIRE ARM</text>
<text x="200" y="268" class="r" font-size="4.5" textLength="21" lengthAdjust="spacingAndGlyphs">NEW POWER</text>
<text x="201" y="274" class="r" font-size="4.5" textLength="22" lengthAdjust="spacingAndGlyphs">(ST. LIGHTING)</text>
<path d="M201 267 L206 267 L215 290" class="ln" stroke-width="0.5"/>
<text transform="translate(220,280) rotate(-90)" class="c" font-size="3.5">4'-0"</text>
<text transform="translate(212,298) rotate(-90)" class="c" font-size="3.5">2'-0"</text>
<text transform="translate(220,322) rotate(-90)" class="c" font-size="3.5">1'-6"</text>
<text transform="translate(243,288) rotate(-90)" class="c" font-size="3.2">12"</text>
<text transform="translate(251,283) rotate(-90)" class="c" font-size="3.8" textLength="24" lengthAdjust="spacingAndGlyphs">CURB FACE</text>
<line x1="252.5" y1="270" x2="252.5" y2="296" class="ln" stroke-width="0.4"/>
<text transform="translate(256,283) rotate(-90)" class="c" font-size="3.8" textLength="24" lengthAdjust="spacingAndGlyphs">BACK OF CURB</text>

<!-- WILBUR AVE (vertical road) -->
<g class="lt">
<path d="M407 210V548M412 210V548M430 210V548M436 210V548M407 690V778M412 690V778M430 690V778M436 690V778" stroke-dasharray="14,3"/>
</g>
<path d="M401 205V540 M445 205V540 M401 683V778 M445 683V778" stroke="#888" stroke-width="0.6" fill="none"/>
<path d="M394 205V527 M452 205V530 M394 697V778 M452 697V778" stroke="#333" stroke-width="0.8" fill="none" stroke-dasharray="7,2.5"/>
<path d="M423 205V778" stroke="#555" stroke-width="0.7" fill="none" stroke-dasharray="10,2,2,2"/>
<path d="M397 236V300 M397 300V408" stroke="#444" stroke-width="1" fill="none"/>
<g class="g">
<text x="410" y="240">u</text><text x="418" y="240">S</text>
<text x="410" y="310">u</text><text x="418" y="310">S</text>
<text x="410" y="380">u</text><text x="418" y="380">S</text>
<text x="410" y="440">u</text><text x="418" y="440">S</text>
<text x="410" y="515">u</text><text x="418" y="515">S</text>
<text x="410" y="625">u</text><text x="418" y="625">S</text>
<text x="410" y="688">u</text><text x="418" y="688">S</text>
<text x="410" y="735">u</text><text x="418" y="735">S</text>
<text x="403" y="280">T</text><text x="403" y="470">T</text><text x="441" y="500">G</text><text x="428" y="650">G</text><text x="441" y="725">G</text>
</g>
<!-- light poles -->
<ellipse cx="399" cy="370" rx="3" ry="6" fill="#ddd" stroke="#999" stroke-width="0.5"/>
<ellipse cx="398" cy="442" rx="3" ry="6" fill="#ddd" stroke="#999" stroke-width="0.5"/>

<!-- top dims -->
<g class="ln" stroke-width="0.5">
<path d="M394 162V212M452 162V212M401 178V212M445 178V212M423 193V212"/>
<path d="M394 167H452M380 182H466M401 198H445"/>
<path d="M392 169L396 165M450 169L454 165M392 184L396 180M399 184L403 180M443 184L447 180M450 184L454 180M399 200L403 196M421 200L425 196M443 200L447 196"/>
<path d="M394 770V812M452 770V812M401 770V798M445 770V798M423 770V785"/>
<path d="M401 783H445M380 797H466M394 810H452"/>
<path d="M399 785L403 781M421 785L425 781M443 785L447 781M392 799L396 795M399 799L403 795M443 799L447 795M450 799L454 795M392 812L396 808M450 812L454 808"/>
</g>
<g font-size="4.2">
<text x="423" y="165" class="c" textLength="11" lengthAdjust="spacingAndGlyphs">90'-0"</text>
<text x="386" y="180" class="c" textLength="10" lengthAdjust="spacingAndGlyphs">10'-0"</text>
<text x="423" y="180" class="c" textLength="11" lengthAdjust="spacingAndGlyphs">60'-0"</text>
<text x="460" y="180" class="c" textLength="10" lengthAdjust="spacingAndGlyphs">10'-0"</text>
<text x="412" y="196" class="c" textLength="10" lengthAdjust="spacingAndGlyphs">30'-0"</text>
<text x="434" y="196" class="c" textLength="10" lengthAdjust="spacingAndGlyphs">30'-0"</text>
<text x="412" y="781" class="c" textLength="10" lengthAdjust="spacingAndGlyphs">30'-0"</text>
<text x="434" y="781" class="c" textLength="10" lengthAdjust="spacingAndGlyphs">30'-0"</text>
<text x="385" y="795" class="c" textLength="10" lengthAdjust="spacingAndGlyphs">10'-0"</text>
<text x="423" y="795" class="c" textLength="11" lengthAdjust="spacingAndGlyphs">60'-0"</text>
<text x="461" y="795" class="c" textLength="10" lengthAdjust="spacingAndGlyphs">10'-0"</text>
<text x="423" y="808" class="c" textLength="11" lengthAdjust="spacingAndGlyphs">90'-0"</text>
</g>
<g font-size="4">
<text transform="translate(395.5,223) rotate(-90)" class="c" textLength="14" lengthAdjust="spacingAndGlyphs">R.O.W</text>
<text transform="translate(402.5,222) rotate(-90)" class="c" textLength="13" lengthAdjust="spacingAndGlyphs">CURB</text>
<text transform="translate(424.5,226) rotate(-90)" class="c" textLength="8" lengthAdjust="spacingAndGlyphs">C/L</text>
<text transform="translate(446.5,222) rotate(-90)" class="c" textLength="13" lengthAdjust="spacingAndGlyphs">CURB</text>
<text transform="translate(453.5,223) rotate(-90)" class="c" textLength="14" lengthAdjust="spacingAndGlyphs">R.O.W</text>
<text transform="translate(395.5,760) rotate(-90)" class="c" textLength="14" lengthAdjust="spacingAndGlyphs">R.O.W</text>
<text transform="translate(402.5,759) rotate(-90)" class="c" textLength="13" lengthAdjust="spacingAndGlyphs">CURB</text>
<text transform="translate(424.5,762) rotate(-90)" class="c" textLength="8" lengthAdjust="spacingAndGlyphs">C/L</text>
<text transform="translate(446.5,759) rotate(-90)" class="c" textLength="13" lengthAdjust="spacingAndGlyphs">CURB</text>
<text transform="translate(453.5,760) rotate(-90)" class="c" textLength="14" lengthAdjust="spacingAndGlyphs">R.O.W</text>
</g>

<!-- CHATSWORTH ST -->
<rect x="258" y="552" width="118" height="10" class="lt"/>
<path d="M253 609H610M253 617H610" class="lt" stroke-dasharray="12,3"/>
<path d="M253 613H610" stroke="#777" stroke-width="0.6" stroke-dasharray="16,3,3,3"/>
<path d="M430 557H610" class="lt" stroke-dasharray="22,6"/>
<path d="M430 575H608" class="lt" stroke-dasharray="24,8"/>
<path d="M430 575V612" class="lt"/>
<path d="M372 566V655" stroke="#aaa" stroke-width="1.2"/>
<rect x="369" y="564" width="6" height="4" fill="#fff" stroke="#555" stroke-width="0.5"/>
<rect x="369" y="653" width="6" height="4" fill="#fff" stroke="#555" stroke-width="0.5"/>
<path d="M401 500 Q406 565 421 612 M394 525 Q400 575 415 612" class="lt"/>
<ellipse cx="287" cy="557" rx="4" ry="7" fill="#ccc" stroke="#999" stroke-width="0.5"/>
<ellipse cx="318" cy="557" rx="4" ry="7" fill="#ccc" stroke="#999" stroke-width="0.5"/>
<ellipse cx="350" cy="557" rx="4" ry="7" fill="#ccc" stroke="#999" stroke-width="0.5"/>
<text x="293" y="559" font-size="4" textLength="20" lengthAdjust="spacingAndGlyphs">10' SIDEWALK</text>
<g class="g">
<text x="270" y="615">SD</text><text x="305" y="615">SD</text><text x="345" y="615">SD</text><text x="455" y="615">SD</text><text x="500" y="615">SD</text><text x="545" y="615">SD</text><text x="585" y="615">SD</text>
<text x="470" y="577">G</text><text x="500" y="577">G</text><text x="530" y="577">G</text><text x="565" y="577">G</text>
<text x="485" y="559">T</text><text x="540" y="559">T</text><text x="275" y="553">T</text>
</g>
<!-- curbs -->
<path d="M253 564H378 Q401 564 401 540 M445 540 Q445 567 470 567H610 M253 658H378 Q401 658 401 683 M610 662H470 Q445 662 445 683" stroke="#777" stroke-width="0.7" fill="none"/>
<!-- ROW -->
<path d="M253 550H372 M476 554H610 M253 671H372 M476 673H610" stroke="#111" stroke-width="1.3" fill="none" stroke-dasharray="11,2,2,2,2,2"/>
<path d="M372 550 Q394 550 394 527 M452 530 Q452 554 476 554 M372 671 Q394 671 394 697 M476 673 Q452 673 452 697" stroke="#111" stroke-width="1.3" fill="none"/>

<!-- left dims -->
<g class="ln" stroke-width="0.5">
<path d="M224 550H252M230 564H252M230 613H252M230 658H252M224 671H252"/>
<path d="M227 520V700M235 550V671"/>
<path d="M225 552L229 548M225 673L229 669M233 566L237 562M233 615L237 611M233 660L237 656"/>
</g>
<g font-size="4.2">
<text x="244" y="552" textLength="10" lengthAdjust="spacingAndGlyphs">R.O.W</text>
<text x="244" y="566" textLength="10" lengthAdjust="spacingAndGlyphs">CURB</text>
<text x="244" y="615" textLength="6" lengthAdjust="spacingAndGlyphs">C/L</text>
<text x="244" y="660" textLength="10" lengthAdjust="spacingAndGlyphs">CURB</text>
<text x="244" y="673" textLength="10" lengthAdjust="spacingAndGlyphs">R.O.W</text>
<text transform="translate(232,536) rotate(-90)" class="c" textLength="11" lengthAdjust="spacingAndGlyphs">10'-0"</text>
<text transform="translate(225,611) rotate(-90)" class="c" textLength="11" lengthAdjust="spacingAndGlyphs">90'-0"</text>
<text transform="translate(233,611) rotate(-90)" class="c" textLength="11" lengthAdjust="spacingAndGlyphs">60'-0"</text>
<text transform="translate(242,588) rotate(-90)" class="c" textLength="11" lengthAdjust="spacingAndGlyphs">30'-0"</text>
<text transform="translate(242,636) rotate(-90)" class="c" textLength="11" lengthAdjust="spacingAndGlyphs">30'-0"</text>
<text transform="translate(232,688) rotate(-90)" class="c" textLength="11" lengthAdjust="spacingAndGlyphs">10'-0"</text>
</g>
<!-- right dims -->
<g class="ln" stroke-width="0.5">
<path d="M612 554H640M616 567H632M614 616H632M616 662H632M612 673H640"/>
<path d="M637 530V695M628 554V673"/>
<path d="M635 556L639 552M635 675L639 671M626 569L630 565M626 618L630 614M626 664L630 660"/>
</g>
<g font-size="4.2">
<text x="610" y="556" class="r" textLength="10" lengthAdjust="spacingAndGlyphs">R.O.W</text>
<text x="612" y="569" class="r" textLength="10" lengthAdjust="spacingAndGlyphs">CURB</text>
<text x="612" y="618" class="r" textLength="6" lengthAdjust="spacingAndGlyphs">C/L</text>
<text x="612" y="664" class="r" textLength="10" lengthAdjust="spacingAndGlyphs">CURB</text>
<text x="610" y="675" class="r" textLength="10" lengthAdjust="spacingAndGlyphs">R.O.W</text>
<text transform="translate(627,542) rotate(-90)" class="c" textLength="11" lengthAdjust="spacingAndGlyphs">10'-0"</text>
<text transform="translate(626,592) rotate(-90)" class="c" textLength="11" lengthAdjust="spacingAndGlyphs">30'-0"</text>
<text transform="translate(627,620) rotate(-90)" class="c" textLength="11" lengthAdjust="spacingAndGlyphs">60'-0"</text>
<text transform="translate(635,620) rotate(-90)" class="c" textLength="11" lengthAdjust="spacingAndGlyphs">90'-0"</text>
<text transform="translate(626,640) rotate(-90)" class="c" textLength="11" lengthAdjust="spacingAndGlyphs">30'-0"</text>
<text transform="translate(627,688) rotate(-90)" class="c" textLength="11" lengthAdjust="spacingAndGlyphs">10'-0"</text>
</g>

<!-- road names -->
<text transform="translate(461,523) rotate(-90)" font-style="italic" font-weight="bold" font-size="8" textLength="70" lengthAdjust="spacing" style="font-family:'Liberation Serif',serif">WILBUR AVE.</text>
<text x="280" y="685" font-size="7.5" font-style="italic" textLength="48" lengthAdjust="spacing" style="font-family:'Liberation Serif',serif">CHATSWORTH ST.</text>
<text transform="translate(509,510) rotate(-90)" font-size="4" textLength="96" lengthAdjust="spacing">(180'-0" N. CL CHATSWORTH ST. &amp;</text>
<text transform="translate(513.5,510) rotate(-90)" font-size="4" textLength="96" lengthAdjust="spacing">37'-0" W. CL WILBUR AVE.)</text>

<!-- pullbox dashed area -->
<rect x="381" y="352" width="46" height="103" rx="4" fill="none" stroke="#333" stroke-width="0.8" stroke-dasharray="5,3"/>
<path d="M398 383H422" class="ln" stroke-width="0.5"/>
<text x="410" y="381" class="c" font-size="4" textLength="9" lengthAdjust="spacingAndGlyphs">35'-0"</text>
<path d="M384 410 L388 402 L392 410 Z" fill="none" stroke="#333" stroke-width="0.5"/>
<path d="M399 404 H510 V412" class="ln" stroke-width="0.5"/>
<path d="M452 414 H401" class="ln" stroke-width="0.5" marker-end="url(#ah)"/>
<text x="454" y="416" font-size="4.3" textLength="37" lengthAdjust="spacingAndGlyphs">EXIST. ST. LT. PULLBOX</text>
<!-- section marker 12/A-4 -->
<path d="M437 374 Q428 388 437 402 Q446 388 437 374 Z" fill="#fff" stroke="#333" stroke-width="0.7"/>
<circle cx="437" cy="388" r="5" fill="#fff" stroke="#333" stroke-width="0.6"/>
<line x1="432" y1="388" x2="442" y2="388" class="ln" stroke-width="0.5"/>
<text x="437" y="387" class="c" font-size="3">12</text><text x="437" y="392" class="c" font-size="3">A-4</text>
<!-- marker 12/A-2 -->
<path d="M383 572 L374 589 L392 589 Z" fill="#fff" stroke="#333" stroke-width="0.8"/>
<circle cx="383" cy="587" r="5" fill="#fff" stroke="#333" stroke-width="0.6"/>
<line x1="378" y1="587" x2="388" y2="587" class="ln" stroke-width="0.5"/>
<text x="383" y="586" class="c" font-size="3">12</text><text x="383" y="591" class="c" font-size="3">A-2</text>

<!-- LEFT LEADER LABELS -->
<g font-size="4.6">
<text x="357" y="227" class="r" textLength="38" lengthAdjust="spacingAndGlyphs">GEN'TEL 3W7D 59'W CL</text>
<text x="357" y="241" class="r" textLength="37" lengthAdjust="spacingAndGlyphs">10" CMPFS 31'W CL</text>
<text x="357" y="255" class="r" textLength="26" lengthAdjust="spacingAndGlyphs">3WPFS 41'W CL</text>
<text x="357" y="283" class="r" textLength="55" lengthAdjust="spacingAndGlyphs">STREET LIGHT POWER 34'-8"W/O CL</text>
<text x="357" y="294" class="r" textLength="24" lengthAdjust="spacingAndGlyphs">SEE SHEET A-2</text>
<text x="357" y="303" class="r" textLength="35" lengthAdjust="spacingAndGlyphs">FOR ENLARGED PLAN</text>
<text x="357" y="315" class="r" textLength="62" lengthAdjust="spacingAndGlyphs">AT&amp;T WIRELINE CONTRACTOR TO PLACE</text>
<text x="357" y="324" class="r" textLength="54" lengthAdjust="spacingAndGlyphs">(1) 17"X30"X18" FIBER PULLBOX#1</text>
<text x="357" y="333" class="r" textLength="40" lengthAdjust="spacingAndGlyphs">(UNDER SEPARATE PERMIT)</text>
<text x="354" y="352" class="r" textLength="44" lengthAdjust="spacingAndGlyphs">INSTALLED BY AT&amp;T MOBILITY</text>
<text x="357" y="372" class="r" textLength="84" lengthAdjust="spacingAndGlyphs">SBL CONTRACTOR TO REMOVE AND REPLACE EXISTING</text>
<text x="357" y="380" class="r" textLength="87" lengthAdjust="spacingAndGlyphs">(29'-0" A.G.L.) (STEEL ST. LIGHT POLE WITH A NEW (31'-0" A.G.L.)</text>
<text x="357" y="388" class="r" textLength="84" lengthAdjust="spacingAndGlyphs">STEEL CONCEAL FAB ST. LIGHT POLE ON A NEW FOUNDATION.</text>
<text x="357" y="395" class="r" textLength="72" lengthAdjust="spacingAndGlyphs">AT&amp;T MOBILITY CONTRACTOR TO PLACE NEW (1) OMNI</text>
<text x="357" y="403" class="r" textLength="89" lengthAdjust="spacingAndGlyphs">ANTENNA AT TOP OF POLE AND (1) 4415 RADIO, (1) 4415 RADIO</text>
<text x="357" y="409" class="r" textLength="77" lengthAdjust="spacingAndGlyphs">AND (1) DISCONNECT SWITCH WITH INTEGRATED SURGE</text>
<text x="357" y="417" class="r" textLength="85" lengthAdjust="spacingAndGlyphs">SUPPRESSION WITH A NEW CONCEAL FAB PEDESTAL BASE.</text>
<text x="353" y="485" class="r" textLength="43" lengthAdjust="spacingAndGlyphs">12" DWPWS (ABAND) 10'W CL</text>
<text x="353" y="495" class="r" textLength="23" lengthAdjust="spacingAndGlyphs">SEWER 11'W CL</text>
<text x="313" y="665" class="r" textLength="38" lengthAdjust="spacingAndGlyphs">60" STORM DRAIN ON CL</text>
<text x="485" y="531" textLength="36" lengthAdjust="spacingAndGlyphs">GEN'TEL 4W7D 41'W CL</text>
<text x="485" y="545" textLength="26" lengthAdjust="spacingAndGlyphs">3/4" SCG 29'W CL</text>
<text x="485" y="710" textLength="24" lengthAdjust="spacingAndGlyphs">3/4" SCG 12'E CL</text>
</g>
<rect x="355" y="344" width="14" height="12" rx="4" fill="#fff" stroke="#333" stroke-width="0.8"/>
<text x="362" y="352" class="c" font-size="5">1</text>
<g class="ln" stroke-width="0.5">
<path d="M359 225H375L393 238" marker-end="url(#ah)"/>
<path d="M359 239H375L408 262" marker-end="url(#ah)"/>
<path d="M359 253H375L394 272" marker-end="url(#ah)"/>
<path d="M359 281H396" marker-end="url(#ah)"/>
<path d="M359 292H368L394 352" marker-end="url(#ah)"/>
<path d="M359 313H372L395 396" marker-end="url(#ah)"/>
<path d="M369 350H375L396 405" marker-end="url(#ah)"/>
<path d="M359 370H370L397 410" marker-end="url(#ah)"/>
<path d="M355 483H372L415 550" marker-end="url(#ah)"/>
<path d="M355 493H370L420 557" marker-end="url(#ah)"/>
<path d="M315 663H330L343 614" marker-end="url(#ah)"/>
<path d="M483 529H467L444 557" marker-end="url(#ah)"/>
<path d="M483 543H467L441 576"/>
<path d="M483 708H467L430 640" marker-end="url(#ah)"/>
</g>
</svg>
</body></html>
